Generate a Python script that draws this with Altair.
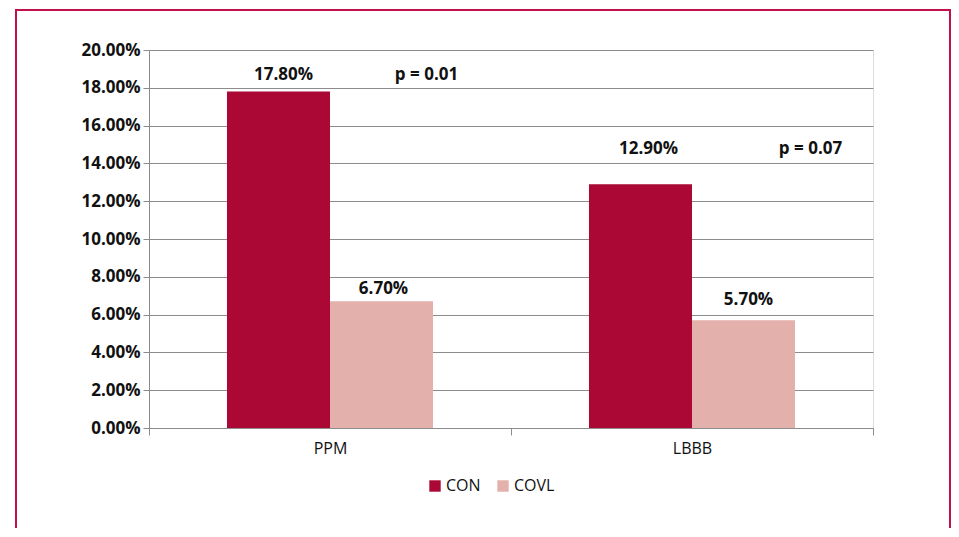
import altair as alt
import pandas as pd

categories = ["PPM", "LBBB"]
groups = ["CON", "COVL"]
con_values = [0.178, 0.129]
covl_values = [0.067, 0.057]
p_labels = ["p = 0.01", "p = 0.07"]
y_ticks = [0.0, 0.02, 0.04, 0.06, 0.08, 0.10, 0.12, 0.14, 0.16, 0.18, 0.20]
colors = ["#AB0836", "#E4B0AC"]

rows = []
for i, c in enumerate(categories):
    rows.append({"cat": c, "grp": "CON", "val": con_values[i]})
    rows.append({"cat": c, "grp": "COVL", "val": covl_values[i]})
df = pd.DataFrame(rows)
pdf = pd.DataFrame({"cat": categories, "grp": ["COVL", "COVL"], "val": con_values, "p": p_labels})

FONT = "Open Sans"

xscale = alt.Scale(domain=categories, paddingInner=0, paddingOuter=0)
xoff = alt.XOffset("grp:N", scale=alt.Scale(domain=groups, paddingInner=0, paddingOuter=0.757))
yscale = alt.Scale(domain=[0, 0.2])

base = alt.Chart(df)

bars = base.mark_bar().encode(
    x=alt.X("cat:N", scale=xscale, sort=categories,
            axis=alt.Axis(title=None, labelAngle=0, tickBand="extent", labelFontSize=16,
                          labelFont=FONT, labelColor="#111", labelPadding=5,
                          tickColor="#8c8c8c", domainColor="#8c8c8c", tickSize=7,
                          grid=False)),
    xOffset=xoff,
    y=alt.Y("val:Q", scale=yscale,
            axis=alt.Axis(title=None, values=y_ticks, tickCount=len(y_ticks), format=".2%",
                          labelFontSize=17,
                          labelFont=FONT, labelFontWeight="bold", labelColor="#111",
                          labelOverlap=False,
                          gridColor="#8c8c8c", tickColor="#8c8c8c", domainColor="#8c8c8c",
                          tickSize=6, labelPadding=3)),
    color=alt.Color("grp:N", scale=alt.Scale(domain=groups, range=colors),
                    legend=alt.Legend(title=None, orient="none", direction="horizontal",
                                      legendX=278, legendY=428, symbolType="square",
                                      symbolSize=130, symbolStrokeWidth=0,
                                      labelFontSize=16, labelFont=FONT, labelColor="#111",
                                      columnPadding=14, labelOffset=3)),
)

def vlabel(cat, grp, dy, dx=0):
    return base.transform_filter(
        (alt.datum.cat == cat) & (alt.datum.grp == grp)
    ).mark_text(fontSize=17, font=FONT, fontWeight="bold", color="#111", dy=dy, dx=dx,
                baseline="bottom").encode(
        x=alt.X("cat:N", scale=xscale, sort=categories),
        xOffset=xoff,
        y=alt.Y("val:Q", scale=yscale),
        text=alt.Text("val:Q", format=".2%"),
    )

labels = [
    vlabel("PPM", "CON", -8, 5),
    vlabel("PPM", "COVL", -3, 2),
    vlabel("LBBB", "CON", -26, 8),
    vlabel("LBBB", "COVL", -11, 5),
]

def plabel(cat, dy, dx):
    return alt.Chart(pdf).transform_filter(alt.datum.cat == cat).mark_text(
        fontSize=17, font=FONT, fontWeight="bold", color="#111", dy=dy, dx=dx,
        baseline="bottom").encode(
        x=alt.X("cat:N", scale=xscale, sort=categories),
        xOffset=xoff,
        y=alt.Y("val:Q", scale=yscale),
        text="p:N",
    )

plabels = [plabel("PPM", -8, 45), plabel("LBBB", -26, 67)]

frame = alt.Chart(pd.DataFrame({"a": [0]})).mark_rect(
    fill=None, stroke="#C4104A", strokeWidth=2
).encode(
    x=alt.value(-133), x2=alt.value(801),
    y=alt.value(-40), y2=alt.value(540),
)

chart = alt.layer(frame, bars, *labels, *plabels).properties(
    width=724, height=378,
    autosize=alt.AutoSizeParams(type="none"),
    padding={"left": 141, "top": 42, "right": 78, "bottom": 100},
).configure_view(stroke=None).configure(background="white")

chart.save("out.html", embed_options={"renderer": "svg", "actions": False})
